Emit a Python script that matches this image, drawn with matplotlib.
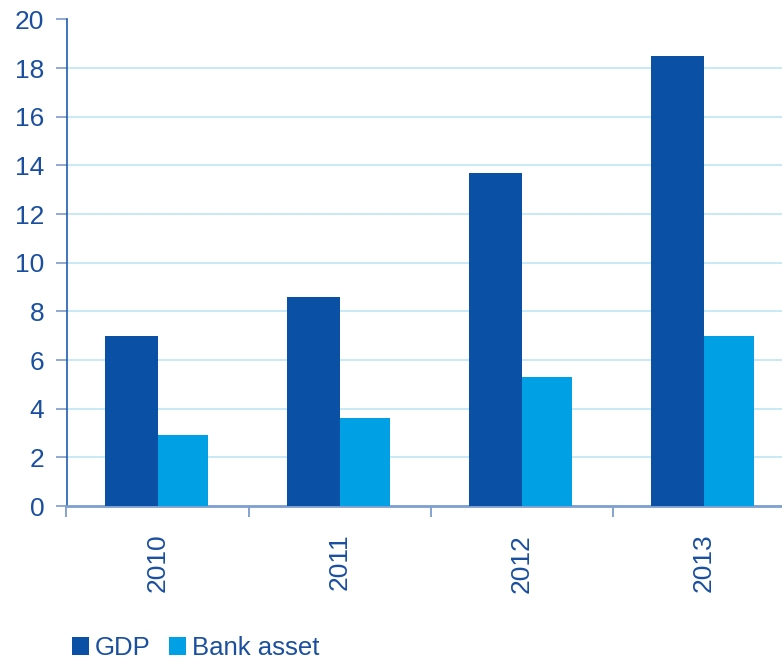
import matplotlib
matplotlib.use("Agg")
import matplotlib.pyplot as plt
from matplotlib.patches import Patch
import numpy as np

plt.rcParams['font.family'] = ['Liberation Sans', 'DejaVu Sans']

years = ['2010', '2011', '2012', '2013']
gdp = [7.0, 8.6, 13.7, 18.5]
bank_asset = [2.9, 3.6, 5.3, 7.0]
series_names = ['GDP', 'Bank asset']

c_gdp = '#0A50A5'
c_bank = '#00A0E4'
c_text = '#1A4F9F'
c_grid = '#C4E7F6'
fs = 19

fig = plt.figure(figsize=(7.82, 6.6), dpi=100)
ax = fig.add_axes([66.5 / 782, (660 - 506) / 660, 728 / 782, 486.5 / 660])

x = np.arange(len(years))
w_gdp = 0.29
w_bank = 0.28
ax.bar(x - w_gdp / 2, gdp, width=w_gdp, color=c_gdp, zorder=3)
ax.bar(x + w_bank / 2, bank_asset, width=w_bank, color=c_bank, zorder=3)

ax.set_xlim(-0.5, len(years) - 0.5)
ax.set_ylim(0, 20)
ax.set_yticks(np.arange(0, 21, 2))
ax.yaxis.grid(True, color=c_grid, linewidth=1.3, zorder=0)
ax.set_axisbelow(True)

# category boundaries carry the tick marks; labels sit at category centres
ax.set_xticks(np.arange(-0.5, len(years), 1.0))
ax.set_xticklabels([])
ax.set_xticks(x, minor=True)
ax.set_xticklabels(years, minor=True, rotation=90, fontsize=fs, color=c_text, va='top')
ax.tick_params(axis='x', which='major', length=8, width=1.2, color='#6F93C8', direction='out')
ax.tick_params(axis='x', which='minor', length=0, pad=20)
ax.tick_params(axis='y', length=8, width=1.2, color='#7F9CC8', labelsize=fs,
               labelcolor=c_text, pad=8)

for s in ['top', 'right']:
    ax.spines[s].set_visible(False)
ax.spines['left'].set_color('#1F5CB0')
ax.spines['left'].set_linewidth(1.2)
ax.spines['bottom'].set_color('#7F9FD0')
ax.spines['bottom'].set_linewidth(2)

handles = [Patch(facecolor=c_gdp), Patch(facecolor=c_bank)]
fig.legend(handles, series_names, loc='lower left', bbox_to_anchor=(72 / 782, 0.0),
           ncol=2, frameon=False, fontsize=18.5, labelcolor=c_text,
           handlelength=0.68, handleheight=0.68, handletextpad=0.22,
           columnspacing=0.7, borderpad=0.0, borderaxespad=0.0)

fig.savefig('out.png', dpi=100)
